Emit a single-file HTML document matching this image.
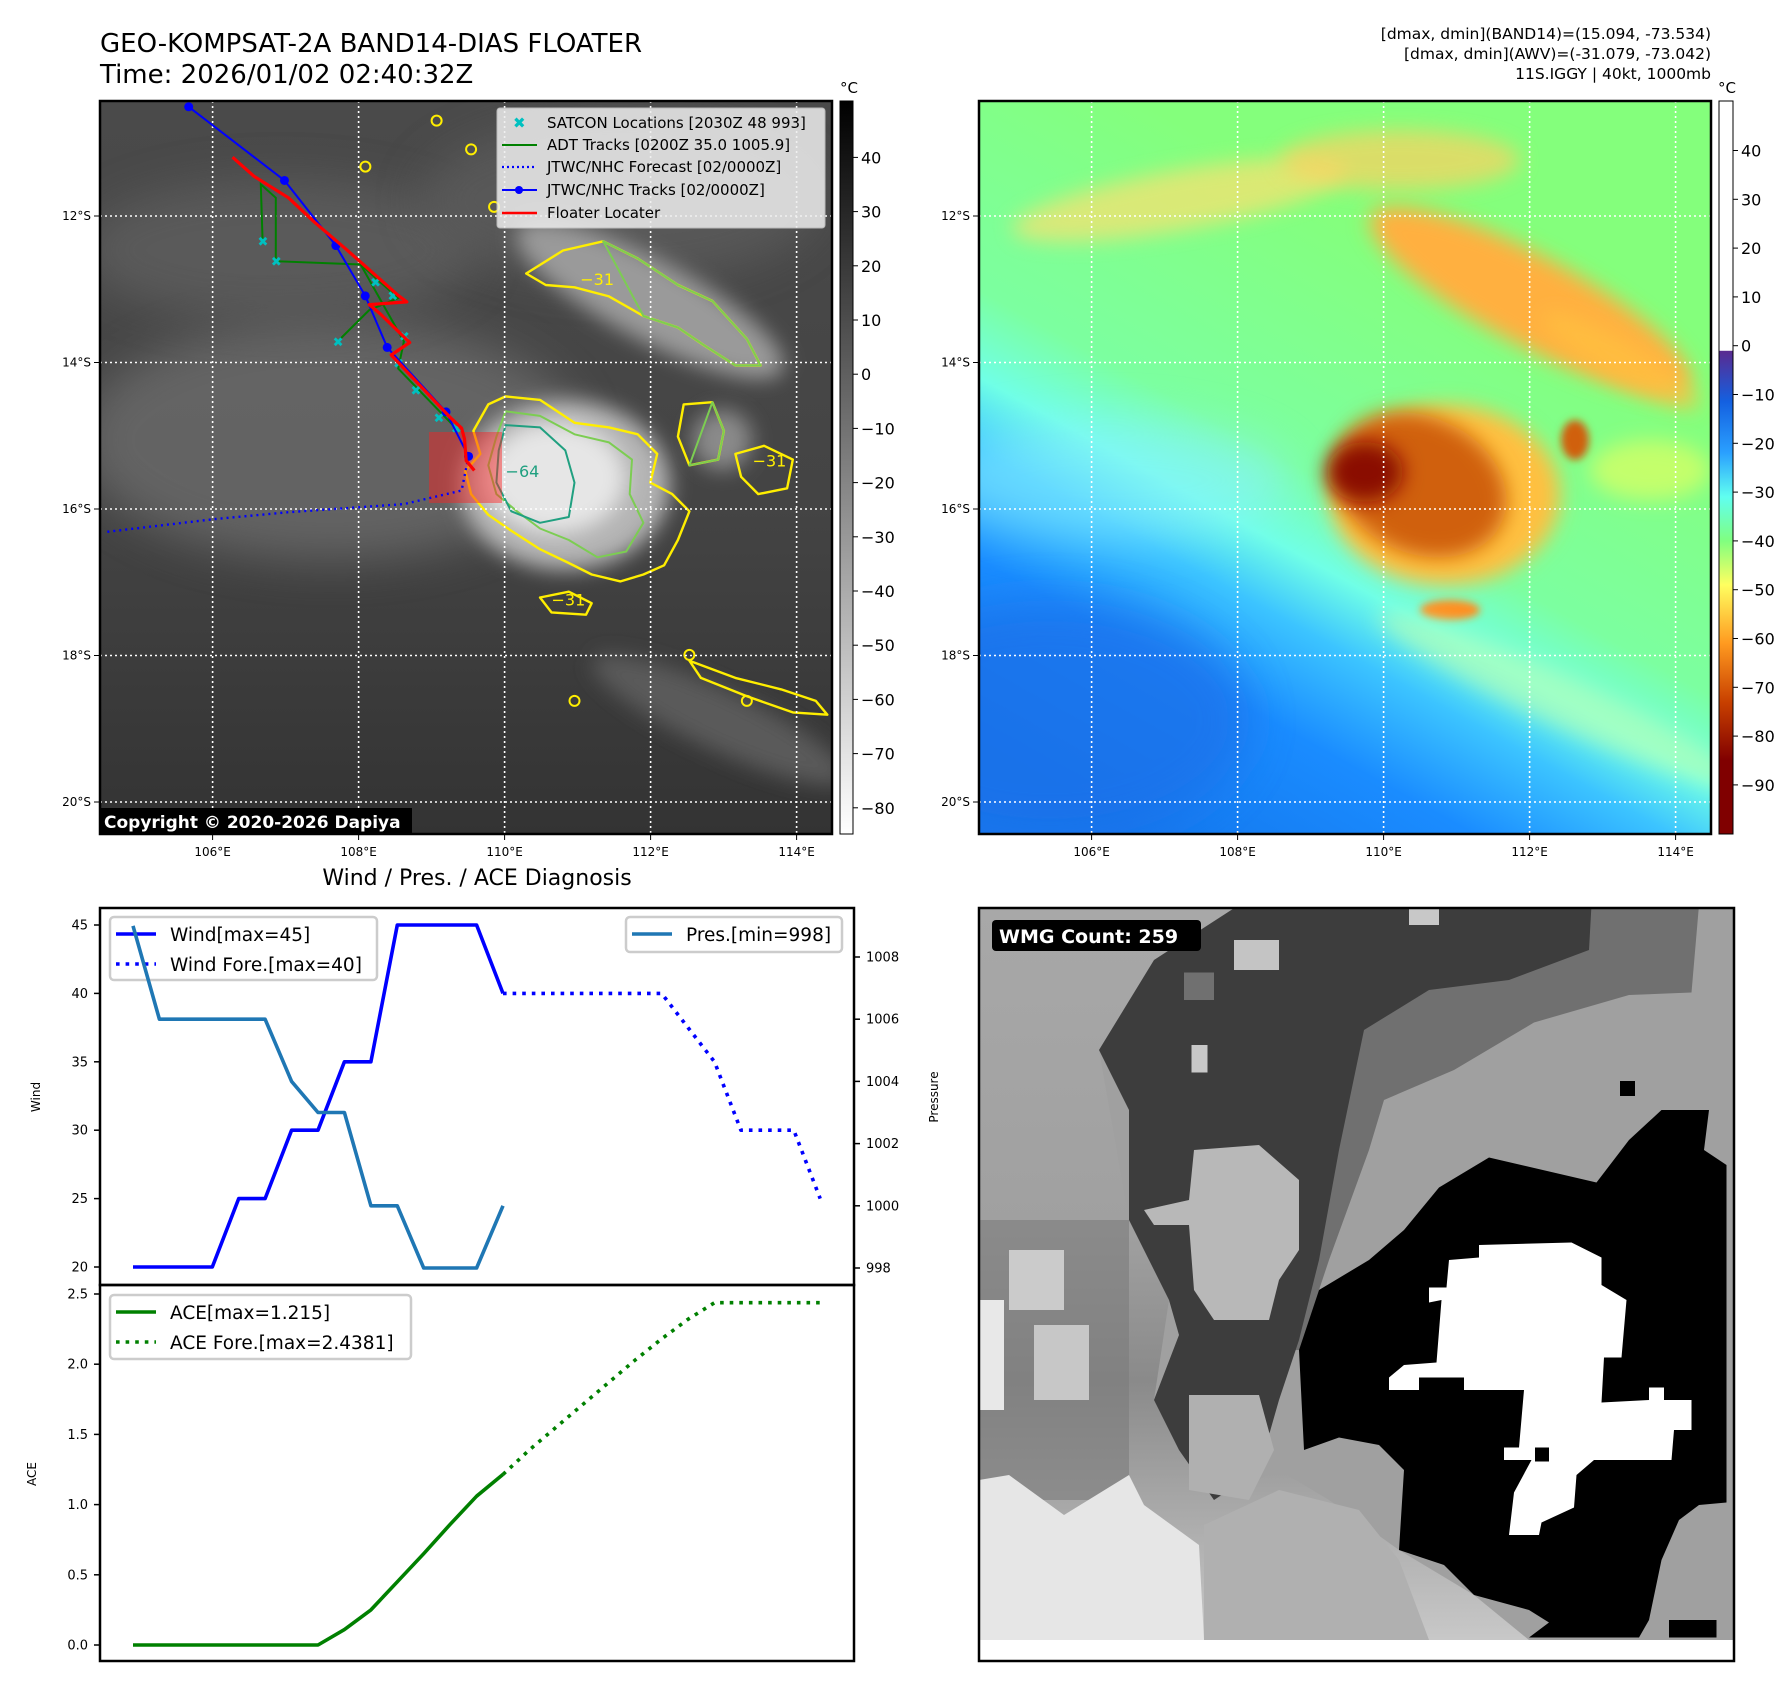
<!DOCTYPE html>
<html><head><meta charset="utf-8">
<style>
html,body{margin:0;padding:0;background:#fff;}
svg{display:block;font-family:"DejaVu Sans","Liberation Sans",sans-serif;}
</style></head>
<body>
<svg id="root" width="1792" height="1690" viewBox="0 0 1792 1690" xmlns="http://www.w3.org/2000/svg">
<defs>
  <filter id="blur8" x="-50%" y="-50%" width="200%" height="200%"><feGaussianBlur stdDeviation="10"/></filter>
  <filter id="blur4" x="-50%" y="-50%" width="200%" height="200%"><feGaussianBlur stdDeviation="4"/></filter>
  <filter id="blur20" x="-50%" y="-50%" width="200%" height="200%"><feGaussianBlur stdDeviation="22"/></filter>
  <clipPath id="clipL"><rect x="100" y="101" width="732" height="733"/></clipPath>
  <clipPath id="clipR"><rect x="979" y="101" width="732" height="733"/></clipPath>
  <clipPath id="clipW"><rect x="979" y="908" width="755" height="753"/></clipPath>
  <linearGradient id="gL" x1="0" y1="0" x2="0" y2="1">
    <stop offset="0" stop-color="#4a4a4a"/><stop offset="0.55" stop-color="#444"/><stop offset="1" stop-color="#333"/>
  </linearGradient>
  <linearGradient id="gR" gradientUnits="userSpaceOnUse" x1="1500" y1="300" x2="1190" y2="860">
    <stop offset="0" stop-color="#84ff7c"/><stop offset="0.38" stop-color="#7cffa0"/>
    <stop offset="0.5" stop-color="#70ffe6"/><stop offset="0.6" stop-color="#3cc4ff"/>
    <stop offset="0.75" stop-color="#1a8cff"/><stop offset="1" stop-color="#1478ee"/>
  </linearGradient>
  <linearGradient id="cbL" x1="0" y1="0" x2="0" y2="1">
    <stop offset="0" stop-color="#000"/><stop offset="1" stop-color="#fff"/>
  </linearGradient>
  <linearGradient id="cbR" x1="0" y1="0" x2="0" y2="1">
    <stop offset="0" stop-color="#fff"/><stop offset="0.3405" stop-color="#fff"/>
    <stop offset="0.341" stop-color="#5a2a90"/><stop offset="0.41" stop-color="#1460e0"/>
    <stop offset="0.48" stop-color="#2aa0ff"/><stop offset="0.54" stop-color="#60fff0"/>
    <stop offset="0.6" stop-color="#80ff80"/><stop offset="0.66" stop-color="#ffff60"/>
    <stop offset="0.74" stop-color="#ff9a20"/><stop offset="0.82" stop-color="#c84000"/>
    <stop offset="0.9" stop-color="#800000"/><stop offset="1" stop-color="#800000"/>
  </linearGradient>
  <linearGradient id="wLeft" x1="0" y1="0" x2="0" y2="1">
    <stop offset="0" stop-color="#a8a8a8"/><stop offset="0.45" stop-color="#a0a0a0"/>
    <stop offset="0.65" stop-color="#8a8a8a"/><stop offset="1" stop-color="#c8c8c8"/>
  </linearGradient>
</defs>

<!-- titles -->
<text x="100" y="52" font-size="26">GEO-KOMPSAT-2A BAND14-DIAS FLOATER</text>
<text x="100" y="83" font-size="26">Time: 2026/01/02 02:40:32Z</text>
<g font-size="15.5" text-anchor="end">
  <text x="1711" y="39">[dmax, dmin](BAND14)=(15.094, -73.534)</text>
  <text x="1711" y="59">[dmax, dmin](AWV)=(-31.079, -73.042)</text>
  <text x="1711" y="79">11S.IGGY | 40kt, 1000mb</text>
</g>

<!-- LEFT MAP -->
<g clip-path="url(#clipL)">
  <rect x="100" y="101" width="732" height="733" fill="url(#gL)"/>
  <ellipse cx="330" cy="440" rx="250" ry="120" fill="#787878" opacity="0.6" filter="url(#blur20)"/>
  <ellipse cx="280" cy="250" rx="200" ry="70" fill="#666" opacity="0.6" filter="url(#blur20)"/>
  <ellipse cx="620" cy="200" rx="200" ry="80" fill="#5e5e5e" opacity="0.7" filter="url(#blur20)"/>
  <ellipse cx="650" cy="300" rx="150" ry="40" transform="rotate(28 650 300)" fill="#9a9a9a" filter="url(#blur8)"/>
  <ellipse cx="720" cy="720" rx="140" ry="30" transform="rotate(25 720 720)" fill="#5a5a5a" filter="url(#blur8)"/>
  <ellipse cx="565" cy="485" rx="105" ry="85" fill="#b4b4b4" filter="url(#blur8)"/>
  <ellipse cx="555" cy="478" rx="70" ry="55" fill="#e6e6e6" filter="url(#blur8)"/>
  <ellipse cx="722" cy="440" rx="30" ry="30" fill="#8a8a8a" filter="url(#blur8)"/>
  <g id="contoursL"></g>
  <rect x="429" y="432" width="73" height="71" fill="#ff2020" opacity="0.45"/>
  <g id="gridL" stroke="#fff" stroke-width="1.6" stroke-dasharray="2 3"></g>
  <g id="tracks"></g>
</g>
<rect x="100" y="101" width="732" height="733" fill="none" stroke="#000" stroke-width="2.5"/>
<g>
  <rect x="100" y="808" width="312" height="26" fill="#000"/>
  <text x="104" y="828" font-size="17" font-weight="bold" fill="#fff">Copyright © 2020-2026 Dapiya</text>
</g>
<!-- legend -->
<g font-size="15">
  <rect x="497" y="108" width="328" height="120" rx="3" fill="#eee" opacity="0.85" stroke="#ccc"/>
  <text x="513" y="128" fill="#00c0c0" font-size="15" font-weight="bold">✖</text>
  <text x="547" y="128">SATCON Locations [2030Z 48 993]</text>
  <line x1="502" y1="145" x2="537" y2="145" stroke="green" stroke-width="2"/>
  <text x="547" y="150">ADT Tracks [0200Z 35.0 1005.9]</text>
  <line x1="502" y1="167" x2="537" y2="167" stroke="blue" stroke-width="2.2" stroke-dasharray="2 3"/>
  <text x="547" y="172">JTWC/NHC Forecast [02/0000Z]</text>
  <line x1="502" y1="190" x2="537" y2="190" stroke="blue" stroke-width="2"/><circle cx="519" cy="190" r="4" fill="blue"/>
  <text x="547" y="195">JTWC/NHC Tracks [02/0000Z]</text>
  <line x1="502" y1="213" x2="537" y2="213" stroke="red" stroke-width="2.5"/>
  <text x="547" y="218">Floater Locater</text>
</g>
<rect x="840" y="101" width="13" height="733" fill="url(#cbL)" stroke="#000" stroke-width="1"/>
<text x="849" y="93" font-size="15" text-anchor="middle">°C</text>
<g id="cbLticks" font-size="16"></g>

<!-- RIGHT MAP -->
<g clip-path="url(#clipR)">
  <rect x="979" y="101" width="732" height="733" fill="url(#gR)"/>
  <ellipse cx="1050" cy="720" rx="200" ry="120" fill="#1a70e8" opacity="0.7" filter="url(#blur20)"/>
  <ellipse cx="1110" cy="480" rx="180" ry="60" fill="#8ef0ff" opacity="0.5" filter="url(#blur20)"/>
  <ellipse cx="1180" cy="200" rx="170" ry="30" transform="rotate(-10 1180 200)" fill="#ffe070" opacity="0.7" filter="url(#blur8)"/>
  <ellipse cx="1400" cy="160" rx="120" ry="30" fill="#ffd060" opacity="0.7" filter="url(#blur8)"/>
  <ellipse cx="1530" cy="300" rx="180" ry="45" transform="rotate(28 1530 300)" fill="#ffb040" filter="url(#blur8)"/>
  <ellipse cx="1620" cy="360" rx="90" ry="20" transform="rotate(30 1620 360)" fill="#ffc040" opacity="0.8" filter="url(#blur8)"/>
  <ellipse cx="1650" cy="470" rx="60" ry="30" fill="#e0ff60" opacity="0.7" filter="url(#blur8)"/>
  <ellipse cx="1575" cy="440" rx="14" ry="20" fill="#d06010" filter="url(#blur4)"/>
  <ellipse cx="1445" cy="495" rx="115" ry="90" fill="#ffc040" filter="url(#blur8)"/>
  <ellipse cx="1420" cy="485" rx="90" ry="68" transform="rotate(25 1420 485)" fill="#d06010" filter="url(#blur8)"/>
  <ellipse cx="1365" cy="472" rx="38" ry="30" fill="#8a1000" filter="url(#blur8)"/>
  <ellipse cx="1450" cy="610" rx="30" ry="10" fill="#ff9020" filter="url(#blur4)"/>
  <ellipse cx="1560" cy="700" rx="200" ry="25" transform="rotate(25 1560 700)" fill="#c0ffb0" opacity="0.6" filter="url(#blur8)"/>
  <g id="gridR" stroke="#fff" stroke-width="1.6" stroke-dasharray="2 3"></g>
</g>
<rect x="979" y="101" width="732" height="733" fill="none" stroke="#000" stroke-width="2.5"/>
<rect x="1719" y="101" width="14" height="733" fill="url(#cbR)" stroke="#000" stroke-width="1"/>
<text x="1727" y="93" font-size="15" text-anchor="middle">°C</text>
<g id="cbRticks" font-size="16"></g>
<g id="geoLabels" font-size="12"></g>

<!-- CHART -->
<text x="477" y="885" font-size="22" text-anchor="middle">Wind / Pres. / ACE Diagnosis</text>
<g id="chart"></g>

<!-- WMG PANEL -->
<g clip-path="url(#clipW)">
  <svg x="979" y="900" width="780" height="780" viewBox="0 0 1560 1560">
    <rect x="0" y="0" width="1560" height="1560" fill="#a0a0a0"/>
    <polygon fill="url(#wLeft)" points="0,0 540,0 350,120 240,300 300,640 380,800 350,1000 470,1200 600,1140 700,1200 840,1300 990,1390 1100,1480 0,1480"/>
    <rect x="0" y="640" width="300" height="560" fill="#7c7c7c" opacity="0.6"/>
    <rect x="0" y="800" width="50" height="220" fill="#e8e8e8"/>
    <rect x="60" y="700" width="110" height="120" fill="#dcdcdc" opacity="0.8"/>
    <rect x="110" y="850" width="110" height="150" fill="#d8d8d8" opacity="0.8"/>
    <polygon fill="#e6e6e6" points="0,1160 60,1150 170,1230 300,1150 330,1210 440,1290 450,1480 0,1480"/>
    <polygon fill="#b0b0b0" points="450,1250 600,1180 760,1220 840,1320 900,1480 450,1480"/>
    <polygon fill="#707070" points="1225,10 1440,10 1425,185 1300,190 1110,245 950,340 810,400 780,500 700,720 640,900 560,900 600,700 700,400 760,250"/>
    <polygon fill="#3d3d3d" points="520,10 1225,10 1220,100 1060,160 900,180 770,260 720,500 680,720 640,880 600,1000 560,1140 470,1200 400,1100 350,1000 400,870 380,800 300,640 300,420 240,300 350,120"/>
    <rect x="860" y="10" width="60" height="40" fill="#c8c8c8"/>
    <rect x="510" y="80" width="90" height="60" fill="#c4c4c4"/>
    <rect x="425" y="290" width="32" height="55" fill="#c8c8c8"/>
    <rect x="410" y="145" width="60" height="55" fill="#707070"/>
    <polygon fill="#b8b8b8" points="430,500 560,490 640,560 640,700 600,760 580,840 470,840 430,780 420,650 350,650 330,620 420,600"/>
    <polygon fill="#b0b0b0" points="420,990 560,990 590,1100 540,1200 420,1180"/>
    <rect x="1282" y="362" width="30" height="30" fill="#000"/>
    <polygon fill="#000" points="1300,480 1365,420 1460,420 1450,500 1495,530 1495,1205 1440,1210 1400,1240 1365,1320 1340,1440 1320,1475 1100,1475 1140,1445 1100,1420 990,1390 930,1330 840,1300 850,1140 800,1090 720,1075 650,1100 640,900 680,780 780,720 850,660 920,575 1020,515 1235,565"/>
    <polygon fill="#000" points="1380,1440 1475,1440 1475,1475 1380,1475"/>
    <polygon fill="#fff" points="1000,690 1185,685 1245,715 1245,770 1295,800 1285,915 1250,915 1245,1005 1340,1000 1340,975 1370,975 1370,1000 1425,1000 1425,1060 1390,1060 1385,1120 1230,1120 1195,1150 1190,1215 1125,1245 1120,1270 1060,1270 1070,1185 1105,1120 1050,1120 1050,1095 1080,1095 1090,980 970,980 970,955 880,955 880,980 820,980 820,955 850,930 915,925 925,800 900,805 900,775 935,775 940,720 1000,715"/>
    <rect x="1112" y="1095" width="28" height="28" fill="#000"/>
    <rect x="0" y="1480" width="1560" height="80" fill="#fff"/>
  </svg>
</g>
<rect x="979" y="908" width="755" height="753" fill="none" stroke="#000" stroke-width="2.5"/>
<g>
  <rect x="992" y="920" width="209" height="31" rx="4" fill="#000"/>
  <text x="999" y="943" font-size="19" font-weight="bold" fill="#fff">WMG Count: 259</text>
</g>

<script>
// ===== Chart data =====
const windIdx = [0,1,2,3,4,5,6,7,8,9,10,11,12,13,14];
const windVals = [20,20,20,20,25,25,30,30,35,35,45,45,45,45,40];
const windForeIdx = [14,15,16,17,18,19,20,21,22,23,24,25,26];
const windForeVals = [40,40,40,40,40,40,40,37.5,35,30,30,30,25];
const presIdx = [0,1,2,3,4,5,6,7,8,9,10,11,12,13,14];
const presVals = [1009,1006,1006,1006,1006,1006,1004,1003,1003,1000,1000,998,998,998,1000];
const aceIdx = [0,1,2,3,4,5,6,7,8,9,10,11,12,13,14];
const aceVals = [0,0,0,0,0,0,0,0,0.11,0.25,0.45,0.65,0.86,1.06,1.215];
const aceForeIdx = [14,15,16,17,18,19,20,21,22,23,24,25,26];
const aceForeVals = [1.215,1.39,1.55,1.71,1.87,2.03,2.18,2.32,2.438,2.438,2.438,2.438,2.438];
const windTicks = [20,25,30,35,40,45];
const presTicks = [998,1000,1002,1004,1006,1008];
const aceTicks = [0.0,0.5,1.0,1.5,2.0,2.5];
const cbLTicks = [40,30,20,10,0,-10,-20,-30,-40,-50,-60,-70,-80];
const cbRTicks = [40,30,20,10,0,-10,-20,-30,-40,-50,-60,-70,-80,-90];
const lonTicks = [106,108,110,112,114];
const latTicks = [12,14,16,18,20];

const NS='http://www.w3.org/2000/svg';
function mk(tag, attrs, parent){const e=document.createElementNS(NS,tag);for(const k in attrs)e.setAttribute(k,attrs[k]);parent.appendChild(e);return e;}
const xs = i => 133 + i*26.43;
const yWind = w => 925 + (45-w)*13.68;
const yPres = p => 957 + (1008-p)*31.1;
const yAce = a => 1645 - a*140.4;
const lonX = l => 212.6 + (l-106)*73;
const latY = l => 216 + (l-12)*73.25;

const chart=document.getElementById('chart');
let f1=mk('rect',{x:100,y:908,width:754,height:377,fill:'none',stroke:'#000','stroke-width':2.5},chart);


let f2=mk('rect',{x:100,y:1285,width:754,height:376,fill:'none',stroke:'#000','stroke-width':2.5},chart);


function pts(ix, vs, fy){return ix.map((i,k)=>xs(i).toFixed(1)+','+fy(vs[k]).toFixed(1)).join(' ');}
function line(ix,vs,fy,color,dash,name){
  const e=mk('polyline',{points:pts(ix,vs,fy),fill:'none',stroke:color,'stroke-width':3.6,'stroke-linejoin':'round'},chart);
  if(dash){e.setAttribute('stroke-dasharray','3.6 6');}
  
  
}
function legend(x,y,w,h,items,name){
  const g=mk('g',{},chart);
  
  
  mk('rect',{x:x,y:y,width:w,height:h,rx:4,fill:'#fff',stroke:'#ccc','stroke-width':2.5,'fill-opacity':0.85},g);
  items.forEach((it,k)=>{const cy=y+17+k*30;
    const l=mk('line',{x1:x+6,y1:cy,x2:x+46,y2:cy,stroke:it[1],'stroke-width':3.6},g);
    if(it[2])l.setAttribute('stroke-dasharray','3.6 6');
    const t=mk('text',{x:x+60,y:cy+7,'font-size':18.5},g);t.textContent=it[0];});
}
line(windIdx,windVals,yWind,'#0000ff',false,'wind-line');
line(windForeIdx,windForeVals,yWind,'#0000ff',true,'wind-forecast-line');
legend(110,917,267,63,[['Wind[max=45]','#0000ff',false],['Wind Fore.[max=40]','#0000ff',true]],'wind-legend');
line(presIdx,presVals,yPres,'#1f77b4',false,'pressure-line');
legend(626,917,216,35,[['Pres.[min=998]','#1f77b4',false]],'pressure-legend');
line(aceIdx,aceVals,yAce,'#008000',false,'ace-line');
line(aceForeIdx,aceForeVals,yAce,'#008000',true,'ace-forecast-line');
legend(110,1295,301,64,[['ACE[max=1.215]','#008000',false],['ACE Fore.[max=2.4381]','#008000',true]],'ace-legend');
// ticks
windTicks.forEach(t=>{const y=yWind(t);mk('line',{x1:94,y1:y,x2:100,y2:y,stroke:'#000','stroke-width':1.5},chart);
  const tx=mk('text',{x:88,y:y+4.5,'font-size':13,'text-anchor':'end'},chart);tx.textContent=t;
  
  });
presTicks.forEach(t=>{const y=yPres(t);mk('line',{x1:854,y1:y,x2:860,y2:y,stroke:'#000','stroke-width':1.5},chart);
  const tx=mk('text',{x:866,y:y+4.5,'font-size':13},chart);tx.textContent=t;
  
  });
aceTicks.forEach(t=>{const y=yAce(t);mk('line',{x1:94,y1:y,x2:100,y2:y,stroke:'#000','stroke-width':1.5},chart);
  const tx=mk('text',{x:88,y:y+4.5,'font-size':13,'text-anchor':'end'},chart);tx.textContent=t.toFixed(1);
  
  });
function vlabel(x,y,s,name){const t=mk('text',{x:x,y:y,'font-size':12,'text-anchor':'middle',transform:`rotate(-90 ${x} ${y})`},chart);t.textContent=s;
  
  }
vlabel(40,1097,'Wind','wind-axis-title');
vlabel(938,1097,'Pressure','pressure-axis-title');
vlabel(36,1474,'ACE','ace-axis-title');

// ===== map grids / labels =====
const gl=document.getElementById('gridL'), gr=document.getElementById('gridR'), geo=document.getElementById('geoLabels');
lonTicks.forEach(l=>{const x=lonX(l);
  mk('line',{x1:x,y1:101,x2:x,y2:834},gl);mk('line',{x1:x+879,y1:101,x2:x+879,y2:834},gr);
  [0,879].forEach(o=>{mk('line',{x1:x+o,y1:834,x2:x+o,y2:840,stroke:'#000'},geo);
    const t=mk('text',{x:x+o,y:856,'text-anchor':'middle'},geo);t.textContent=l+'°E';
    
    });});
latTicks.forEach(l=>{const y=latY(l);
  mk('line',{x1:100,y1:y,x2:832,y2:y},gl);mk('line',{x1:979,y1:y,x2:1711,y2:y},gr);
  [0,879].forEach(o=>{mk('line',{x1:94+o,y1:y,x2:100+o,y2:y,stroke:'#000'},geo);
    const t=mk('text',{x:91+o,y:y+4,'text-anchor':'end'},geo);t.textContent=l+'°S';
    
    });});
const cl=document.getElementById('cbLticks'), cr=document.getElementById('cbRticks');
cbLTicks.forEach(v=>{const y=157.4+(40-v)*5.42;mk('line',{x1:853,y1:y,x2:858,y2:y,stroke:'#000'},cl);
  const t=mk('text',{x:861,y:y+6},cl);t.textContent=(v<0?'\u2212'+(-v):v);
  
  });
cbRTicks.forEach(v=>{const y=150.5+(40-v)*4.88;mk('line',{x1:1733,y1:y,x2:1738,y2:y,stroke:'#000'},cr);
  const t=mk('text',{x:1741,y:y+6},cr);t.textContent=(v<0?'\u2212'+(-v):v);
  
  });

// ===== contours =====
const S=1.149;
const stormOuter=[[425,352],[440,345],[470,348],[500,368],[530,372],[555,378],[572,395],[566,420],[585,430],[600,445],[590,470],[578,492],[560,500],[540,506],[515,500],[495,490],[470,478],[445,462],[425,448],[410,430],[405,410],[418,395],[412,375]];
const stormInner=[[440,358],[470,362],[500,378],[530,385],[550,400],[548,430],[560,455],[545,480],[520,485],[495,470],[470,460],[450,445],[432,430],[425,405],[432,380]];
const core=[[440,370],[470,372],[492,392],[500,420],[495,450],[470,455],[445,445],[432,420],[434,392]];
const band=[[458,238],[490,218],[525,210],[555,225],[590,248],[620,262],[650,295],[662,318],[640,318],[612,300],[590,285],[560,275],[530,258],[500,250],[475,248]];
const small1=[[595,352],[620,350],[630,375],[625,400],[600,405],[590,380]];
const small2=[[640,395],[665,388],[690,400],[685,425],[660,430],[645,415]];
const small3=[[470,520],[495,515],[515,525],[510,535],[480,533]];
const small4=[[600,575],[640,590],[680,600],[710,610],[720,622],[690,620],[650,606],[610,590]];
const cL=document.getElementById('contoursL');
function poly(p,stroke,w){const e=mk('polygon',{points:p.map(q=>(q[0]*S).toFixed(1)+','+(q[1]*S).toFixed(1)).join(' '),fill:'none',stroke:stroke,'stroke-width':w,'stroke-linejoin':'round'},cL);return e;}
[stormOuter,band,small1,small2,small3,small4].forEach(p=>poly(p,'#ffee00',2.4));
[stormInner,band.slice(2,12),small1.slice(1,5)].forEach(p=>poly(p,'#7ccd52',2));
poly(core,'#20a080',2);
[[380,105],[410,130],[318,145],[430,180],[600,570],[500,610],[650,610]].forEach(q=>mk('circle',{cx:q[0]*S,cy:q[1]*S,r:5,fill:'none',stroke:'#ffee00','stroke-width':2},cL));
const lbl=[['\u221231',505,248],['\u221231',480,527],['\u221231',655,406],['\u221264',440,415]];
lbl.forEach(a=>{const t=mk('text',{x:a[1]*S,y:a[2]*S,'font-size':16,fill:a[0].indexOf('64')>0?'#20a080':'#ffee00'},cL);t.textContent=a[0];});

// ===== tracks =====
const zx=x=>x/1.733, zy=y=>y/1.845;
const tg=document.getElementById('tracks');
function zpl(p,attrs){const e=mk('polyline',Object.assign({points:p.map(q=>zx(q[0]).toFixed(1)+','+zy(q[1]).toFixed(1)).join(' '),fill:'none'},attrs),tg);return e;}
const adt=[[455,445],[452,340],[478,365],[478,482],[625,488],[690,550],[640,572],[585,630]];
zpl(adt,{stroke:'green','stroke-width':2});
zpl([[625,488],[700,630],[690,680],[790,790]],{stroke:'green','stroke-width':2});
[[455,445],[478,482],[585,630],[650,520],[680,545],[700,620],[690,670],[720,720],[760,770],[790,790]].forEach(q=>{const t=mk('text',{x:zx(q[0])-5,y:zy(q[1])+5,'font-size':13,'font-weight':'bold',fill:'#00c0c0'},tg);t.textContent='✖';});
zpl([[812,842],[800,905],[700,930],[500,945],[370,958],[180,982]],{stroke:'blue','stroke-width':2.4,'stroke-dasharray':'2 4'});
const jt=[[327,197],[493,333],[582,453],[633,546],[671,641],[773,760],[812,842]];
zpl(jt,{stroke:'blue','stroke-width':2});
jt.forEach(q=>mk('circle',{cx:zx(q[0]),cy:zy(q[1]),r:4.5,fill:'blue'},tg));
zpl([[403,290],[440,325],[500,365],[545,410],[600,460],[690,545],[705,557],[640,562],[660,580],[710,632],[678,655],[780,770],[800,790],[805,810],[808,850],[822,868]],{stroke:'red','stroke-width':3.2,'stroke-linejoin':'round'});
</script>
</svg>
</body></html>
